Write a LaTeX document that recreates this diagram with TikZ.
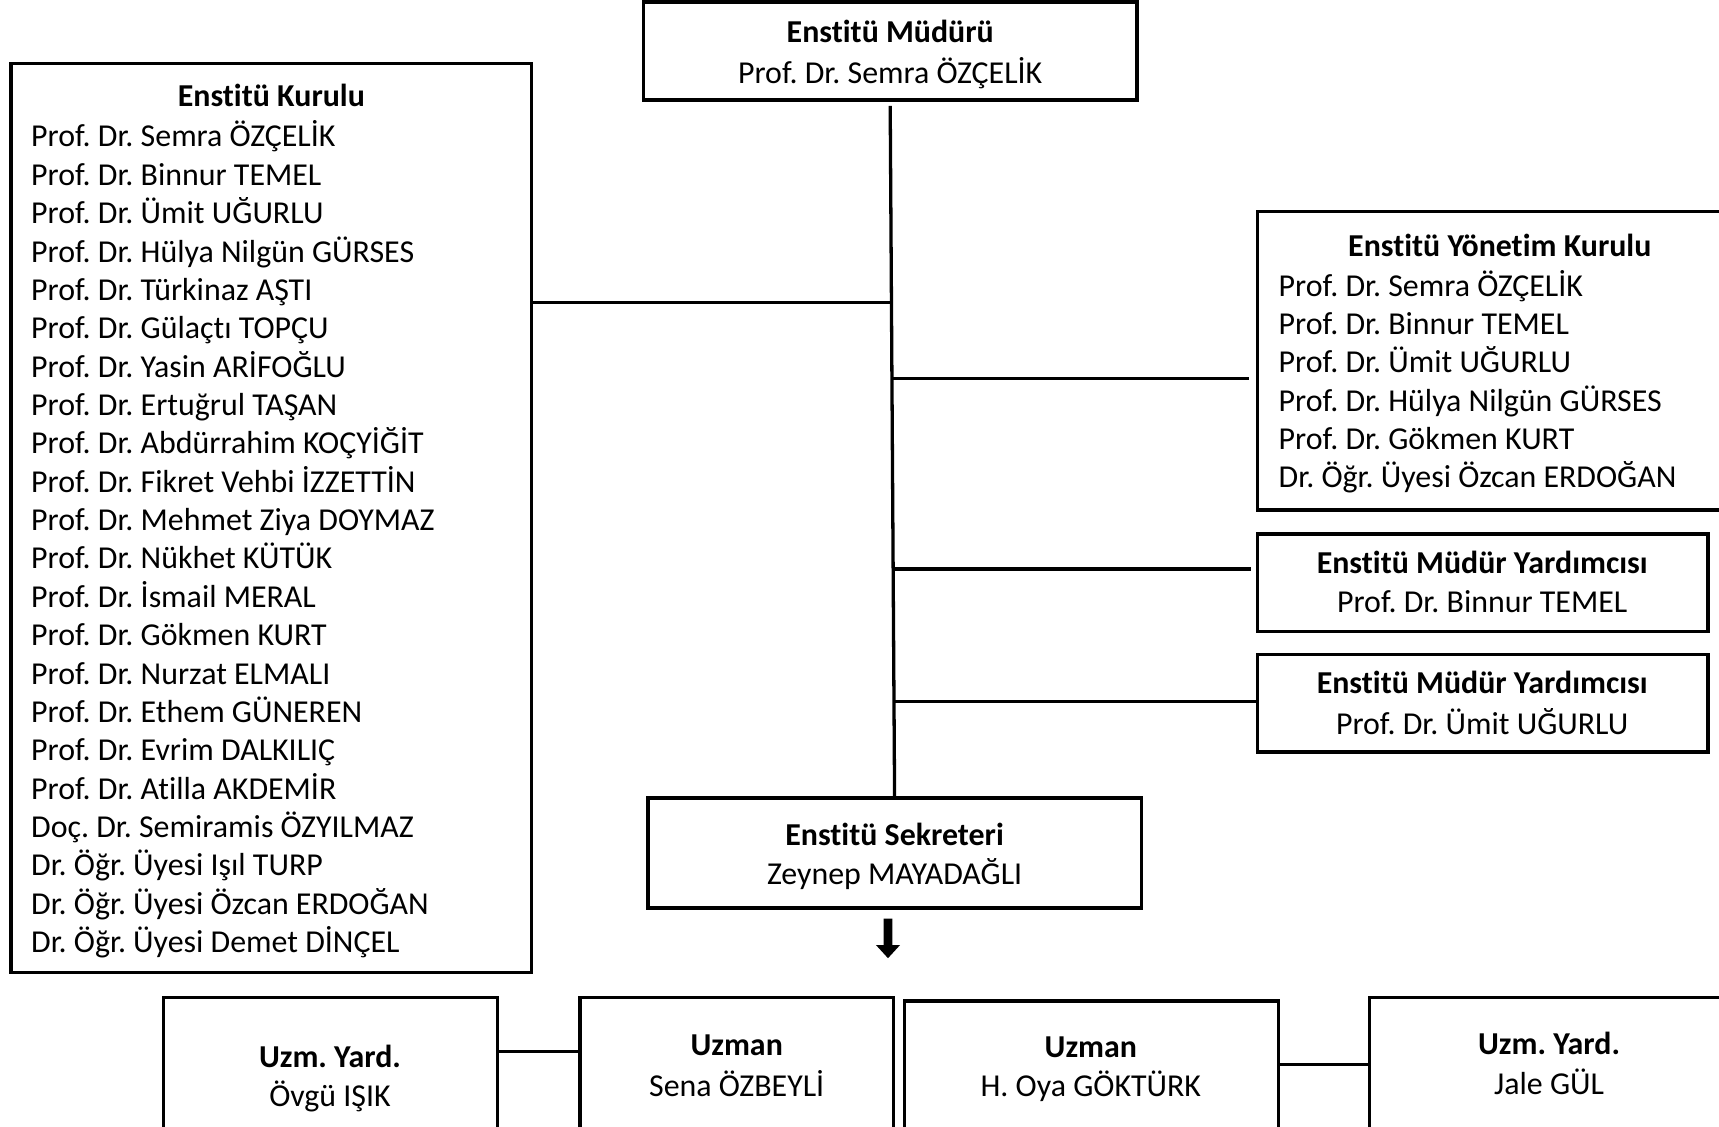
\documentclass[tikz,border=0pt]{standalone}
\usepackage{fontspec}
\setmainfont[Ligatures=NoCommon]{Carlito}
\usetikzlibrary{fit,calc}
\begin{document}
\frenchspacing
\begin{tikzpicture}[x=0.5pt,y=-0.5pt,
  box/.style={draw, line width=1.6pt, inner sep=0pt},
  link/.style={line width=1.5pt},
  txt/.style={inner sep=0pt, font=\fontsize{14.55pt}{17.5pt}\selectfont},
  ttl/.style={inner sep=0pt, font=\fontsize{14.55pt}{17.5pt}\selectfont\bfseries},
]
\useasboundingbox (0,0) rectangle (1568,1028);

% boxes
\node[box, fit={(587,2) (1037,91)}] (mudur) {};
\node[box, fit={(10,58) (485,887)}] (kurulu) {};
\node[box, fit={(1147,193) (1590,465)}] (yonetim) {};
\node[box, fit={(1147,487) (1558,576)}] (my1) {};
\node[box, fit={(1147,597) (1558,686)}] (my2) {};
\node[box, fit={(591,728) (1041,828)}] (sek) {};
\node[box, fit={(149,910) (454,1060)}] (ovgu) {};
\node[box, fit={(529,910) (815,1060)}] (sena) {};
\node[box, fit={(825,913) (1166,1060)}] (oya) {};
\node[box, fit={(1249,910) (1580,1060)}] (jale) {};

% texts
\node[ttl, anchor=base] (mudurT) at (812,39) {Enstitü Müdürü};
\node[txt, anchor=base] (mudurN) at (812,76) {Prof. Dr. Semra ÖZÇELİK};

\node[ttl, anchor=base] (kuruluT) at (247.5,97) {Enstitü Kurulu};
\foreach \t [count=\i from 0] in {Prof. Dr. Semra ÖZÇELİK, Prof. Dr. Binnur TEMEL, Prof. Dr. Ümit UĞURLU, Prof. Dr. Hülya Nilgün GÜRSES, Prof. Dr. Türkinaz AŞTI, Prof. Dr. Gülaçtı TOPÇU, Prof. Dr. Yasin ARİFOĞLU, Prof. Dr. Ertuğrul TAŞAN, Prof. Dr. Abdürrahim KOÇYİĞİT, Prof. Dr. Fikret Vehbi İZZETTİN, Prof. Dr. Mehmet Ziya DOYMAZ, Prof. Dr. Nükhet KÜTÜK, Prof. Dr. İsmail MERAL, Prof. Dr. Gökmen KURT, Prof. Dr. Nurzat ELMALI, Prof. Dr. Ethem GÜNEREN, Prof. Dr. Evrim DALKILIÇ, Prof. Dr. Atilla AKDEMİR, Doç. Dr. Semiramis ÖZYILMAZ, Dr. Öğr. Üyesi Işıl TURP, Dr. Öğr. Üyesi Özcan ERDOĞAN, Dr. Öğr. Üyesi Demet DİNÇEL}
  \node[txt, anchor=base west] (kl\i) at (28,{134+35*\i}) {\t};

\node[ttl, anchor=base] (yonetimT) at (1368,234) {Enstitü Yönetim Kurulu};
\foreach \t [count=\i from 0] in {Prof. Dr. Semra ÖZÇELİK, Prof. Dr. Binnur TEMEL, Prof. Dr. Ümit UĞURLU, Prof. Dr. Hülya Nilgün GÜRSES, Prof. Dr. Gökmen KURT, Dr. Öğr. Üyesi Özcan ERDOĞAN}
  \node[txt, anchor=base west] (yl\i) at (1166,{270+35*\i}) {\t};

\node[ttl, anchor=base] (my1T) at (1352,523) {Enstitü Müdür Yardımcısı};
\node[txt, anchor=base] (my1N) at (1352,559) {Prof. Dr. Binnur TEMEL};
\node[ttl, anchor=base] (my2T) at (1352,633) {Enstitü Müdür Yardımcısı};
\node[txt, anchor=base] (my2N) at (1352,670) {Prof. Dr. Ümit UĞURLU};

\node[ttl, anchor=base] (sekT) at (816,771) {Enstitü Sekreteri};
\node[txt, anchor=base] (sekN) at (816,807) {Zeynep MAYADAĞLI};

\node[ttl, anchor=base] (ovguT) at (301,974) {Uzm. Yard.};
\node[txt, anchor=base] (ovguN) at (301,1009) {Övgü IŞIK};
\node[ttl, anchor=base] (senaT) at (672,963) {Uzman};
\node[txt, anchor=base] (senaN) at (672,1000) {Sena ÖZBEYLİ};
\node[ttl, anchor=base] (oyaT) at (995,965) {Uzman};
\node[txt, anchor=base] (oyaN) at (995,1000) {H. Oya GÖKTÜRK};
\node[ttl, anchor=base] (jaleT) at (1413,962) {Uzm. Yard.};
\node[txt, anchor=base] (jaleN) at (1413,998) {Jale GÜL};

% connectors
\coordinate (top) at ([yshift=-2pt]mudur.south);
\draw[link] (top) -- (sek.north);
\coordinate (j1) at ($(top)!(812,276)!(sek.north)$);
\coordinate (j2) at ($(top)!(812,345)!(sek.north)$);
\coordinate (j3) at ($(top)!(812,519)!(sek.north)$);
\coordinate (j4) at ($(top)!(812,640)!(sek.north)$);
\draw[link] (kurulu.east |- j1) -- (j1);
\draw[link] (j2) -- ([xshift=-3pt]yonetim.west |- j2);
\draw[link] (j3) -- ([xshift=-2pt]my1.west |- j3);
\draw[link] (j4) -- (my2.west |- j4);
\coordinate (b1) at (0,959);
\coordinate (b2) at (0,971);
\draw[link] (ovgu.east |- b1) -- (sena.west |- b1);
\draw[link] (oya.east |- b2) -- (jale.west |- b2);

% arrow below secretary
\coordinate (arr) at (810,838);
\fill (arr) ++(-4,0) -- ++(8,0) -- ++(0,24) -- ++(7,0) -- ++(-11,12) -- ++(-11,-12) -- ++(7,0) -- cycle;
\end{tikzpicture}
\end{document}
